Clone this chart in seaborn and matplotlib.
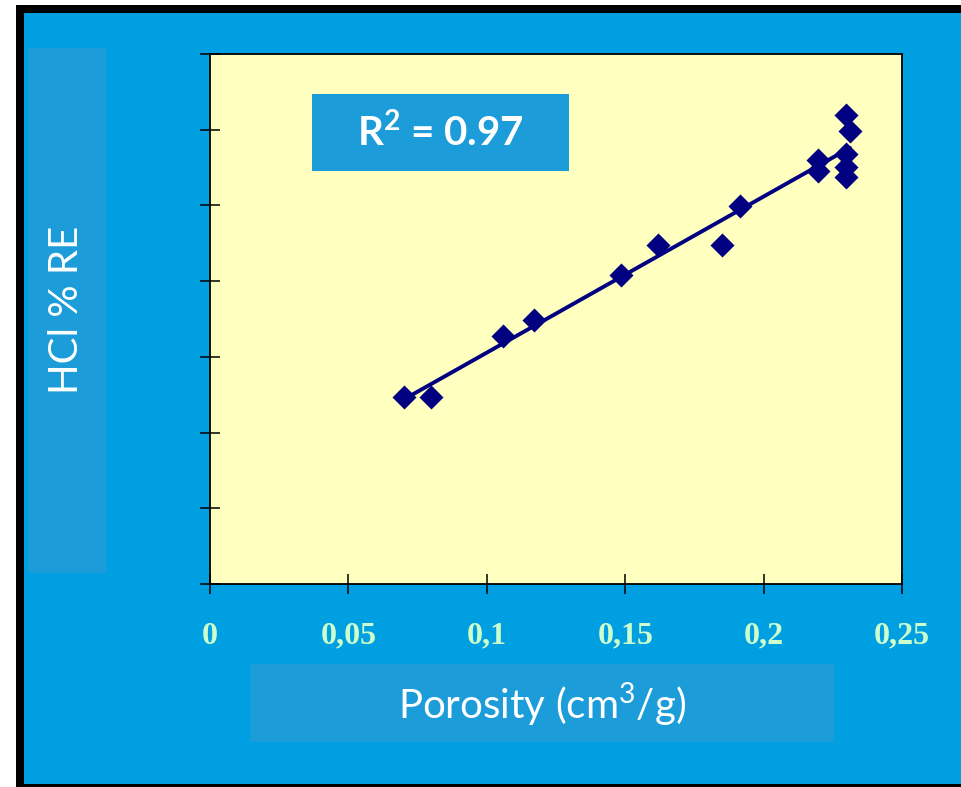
import numpy as np
import pandas as pd
import matplotlib
matplotlib.use("Agg")
import matplotlib.pyplot as plt
from matplotlib.patches import Rectangle
import seaborn as sns

# valeurs (unités y arbitraires, pas de graduations affichées)
porosite = [0.070, 0.080, 0.106, 0.117, 0.1485, 0.162, 0.185, 0.1915,
            0.2197, 0.2197, 0.2298, 0.2312, 0.2298, 0.2298, 0.2298]
hcl_re = [24.7, 24.7, 32.8, 34.9, 40.8, 44.8, 44.8, 49.9,
          56.0, 54.6, 61.9, 59.8, 56.8, 55.1, 53.8]
x_ticks = [0, 0.05, 0.1, 0.15, 0.2, 0.25]
x_labels = ["0", "0,05", "0,1", "0,15", "0,2", "0,25"]
y_ticks = [0, 10, 20, 30, 40, 50, 60, 70]
r2_text = r"R$^{\mathbf{2}}$ = 0.97"

df = pd.DataFrame({"Porosity": porosite, "HCl": hcl_re})

sns.set_style("white")
plt.rcParams["font.family"] = ["Lato", "DejaVu Sans"]
plt.rcParams["mathtext.fontset"] = "custom"
plt.rcParams["mathtext.rm"] = "Lato"
plt.rcParams["mathtext.bf"] = "Lato:bold"

W, H = 961, 787
fig = plt.figure(figsize=(W / 100, H / 100), dpi=100)
fig.patch.set_facecolor("white")

def box(x0, y0, x1, y1, color, z=0):
    # rectangle en pixels (origine en haut à gauche)
    fig.patches.append(Rectangle((x0 / W, 1 - y1 / H), (x1 - x0) / W, (y1 - y0) / H,
                                 transform=fig.transFigure, facecolor=color,
                                 edgecolor="none", zorder=z))

bleu = "#009FE2"
bleu_clair = "#1C9CD8"
box(16, 5, 970, 790, "black", -3)
box(24, 13, 970, 784, bleu, -2)
box(28, 48, 106, 573, bleu_clair, -1)
box(250, 664, 834, 742, bleu_clair, -1)

ax = fig.add_axes([210 / W, 1 - 584 / H, (902 - 210) / W, (584 - 54) / H])
ax.set_facecolor("#FFFFC0")

sns.regplot(data=df, x="Porosity", y="HCl", ax=ax, ci=None, marker="D",
            color="#000080",
            scatter_kws={"s": 150, "alpha": 1, "linewidths": 0, "zorder": 3},
            line_kws={"lw": 2.8, "zorder": 2})

ax.set_xlim(0, 0.25)
ax.set_ylim(0, 70)
ax.set_xticks(x_ticks)
ax.set_xticklabels(x_labels)
ax.set_yticks(y_ticks)
ax.set_yticklabels([])
ax.set_xlabel("")
ax.set_ylabel("")
for s in ax.spines.values():
    s.set_visible(True)
    s.set_color("black")
    s.set_linewidth(1.3)
ax.tick_params(axis="both", direction="inout", length=14, width=1.1, color="black",
               bottom=True, left=True)
ax.tick_params(axis="x", pad=20)
for lab in ax.get_xticklabels():
    lab.set_family("Liberation Serif")
    lab.set_fontweight("bold")
    lab.set_fontsize(23)
    lab.set_color("#CCFFCC")

# boîte R²
ax.add_patch(Rectangle(((312 - 210) / (902 - 210), (584 - 171) / (584 - 54)),
                       (569 - 312) / (902 - 210), (171 - 94) / (584 - 54),
                       transform=ax.transAxes, facecolor=bleu_clair,
                       edgecolor="none", zorder=4))
ax.text((440 - 210) / (902 - 210), (584 - 133) / (584 - 54), r2_text,
        transform=ax.transAxes, ha="center", va="center", color="white",
        fontsize=29, fontweight="bold", zorder=5)

fig.text(542 / W, 1 - 705 / H, "Porosity (cm$^3$/g)", ha="center", va="center",
         color="white", fontsize=29)
fig.text(67 / W, 1 - 310 / H, "HCl % RE", ha="center", va="center",
         color="white", fontsize=29, rotation=90)

fig.savefig("out.png", dpi=100, facecolor=fig.get_facecolor())
